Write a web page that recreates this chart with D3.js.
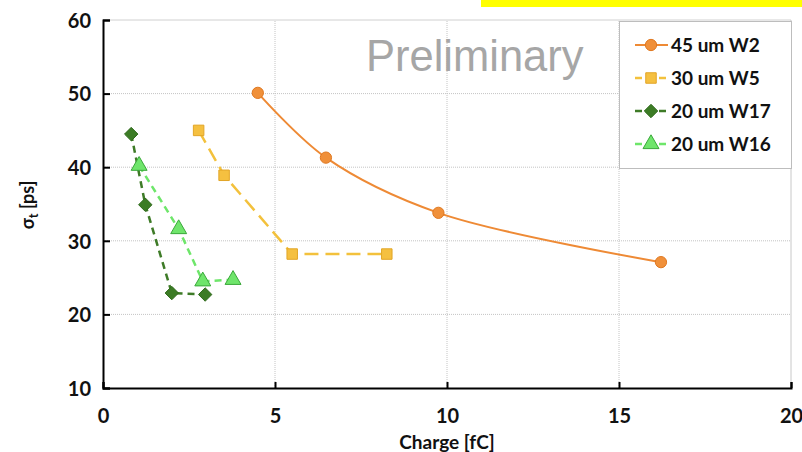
<!DOCTYPE html>
<html>
<head>
<meta charset="utf-8">
<script src="https://cdn.jsdelivr.net/npm/d3@7"></script>
<style>
  body { margin: 0; background: #fff; }
  text { font-family: Lato, "Open Sans", sans-serif; }
</style>
</head>
<body>
<script>
// sigma_t vs charge for several sensors
let xTicks = [0, 5, 10, 15, 20];
let yTicks = [10, 20, 30, 40, 50, 60];

let seriesNames = ['45 um W2', '30 um W5', '20 um W17', '20 um W16'];

let w2Charge = [4.5, 6.48, 9.75, 16.22];
let w2Sigma = [50.1, 41.3, 33.8, 27.1];

let w5Charge = [2.78, 3.52, 5.5, 8.25];
let w5Sigma = [45.0, 38.9, 28.2, 28.2];

let w17Charge = [0.82, 1.23, 2.0, 2.97];
let w17Sigma = [44.5, 34.9, 22.9, 22.7];

let w16Charge = [1.05, 2.2, 2.9, 3.78];
let w16Sigma = [40.2, 31.6, 24.5, 24.7];

let width = 802, height = 452;

let svg = d3.select('body').append('svg')
    .attr('width', width)
    .attr('height', height);

// yellow strip at the top right
svg.append('rect')
    .attr('x', 481).attr('y', 0)
    .attr('width', 321).attr('height', 7)
    .attr('fill', '#ffff00');

let x = d3.scaleLinear().domain([0, 20]).range([103, 791]);
let y = d3.scaleLinear().domain([10, 60]).range([388, 20]);

// grid
let grid = svg.append('g');
grid.selectAll('.hg')
    .data(yTicks.filter(d => d > 10))
    .enter().append('line')
    .attr('x1', x(0)).attr('x2', x(20))
    .attr('y1', d => y(d)).attr('y2', d => y(d))
    .attr('stroke', d => d === 60 ? '#d0d0d0' : '#c4c4c4')
    .attr('stroke-width', 1)
    .attr('stroke-dasharray', d => d === 60 ? null : '1,1');
grid.selectAll('.vg')
    .data(xTicks.filter(d => d > 0))
    .enter().append('line')
    .attr('y1', y(10)).attr('y2', y(60))
    .attr('x1', d => x(d)).attr('x2', d => x(d))
    .attr('stroke', d => d === 20 ? '#c8c8c8' : '#c4c4c4')
    .attr('stroke-width', 1)
    .attr('stroke-dasharray', d => d === 20 ? null : '1,1');

// Preliminary watermark
svg.append('text')
    .attr('x', 366).attr('y', 71)
    .style('font-family', '"Liberation Sans", Arial, sans-serif')
    .style('font-size', '43.5px')
    .attr('fill', '#a6a6a6')
    .text('Preliminary');

// axes
let xAxis = d3.axisBottom(x).tickValues(xTicks).tickSize(-6).tickPadding(0).tickFormat(d3.format('d'));
let yAxis = d3.axisLeft(y).tickValues(yTicks).tickSize(-7).tickPadding(0).tickFormat(d3.format('d'));

let gx = svg.append('g').attr('transform', 'translate(0,' + y(10) + ')').call(xAxis);
let gy = svg.append('g').attr('transform', 'translate(' + x(0) + ',0)').call(yAxis);

[gx, gy].forEach(g => {
    g.select('.domain').attr('stroke', '#000').attr('stroke-width', 2);
    g.selectAll('.tick line').attr('stroke', '#000').attr('stroke-width', 2);
    g.selectAll('.tick text')
        .style('font-family', 'Lato, sans-serif')
        .style('font-size', '20px')
        .style('font-weight', 'bold')
        .attr('fill', '#111');
});
gx.selectAll('.tick text').attr('dy', null).attr('y', 35);
gy.selectAll('.tick text').attr('x', -12).attr('dy', '0.36em');

// axis titles
svg.append('text')
    .attr('x', x(10)).attr('y', 449)
    .attr('text-anchor', 'middle')
    .style('font-size', '19px').style('font-weight', 'bold')
    .attr('fill', '#111')
    .text('Charge [fC]');

let yt = svg.append('text')
    .attr('transform', 'translate(34,205) rotate(-90)')
    .attr('text-anchor', 'middle')
    .style('font-size', '18px').style('font-weight', 'bold')
    .attr('fill', '#111');
yt.append('tspan').text('σ');
yt.append('tspan').attr('dy', 4).style('font-size', '13px').text('t');
yt.append('tspan').attr('dy', -4).text(' [ps]');

// square rotated by 45 degrees, as the spreadsheet draws its diamonds
let rhomb = {
    draw(context, size) {
        let r = Math.sqrt(size / 2);
        context.moveTo(0, -r);
        context.lineTo(r, 0);
        context.lineTo(0, r);
        context.lineTo(-r, 0);
        context.closePath();
    }
};

// series
let series = [
    {name: seriesNames[0], xs: w2Charge, ys: w2Sigma, color: '#ee8a35', fill: '#f0903a', stroke: '#e07820', dash: null, width: 2, shape: d3.symbolCircle, size: 100, curve: d3.curveCatmullRom},
    {name: seriesNames[1], xs: w5Charge, ys: w5Sigma, color: '#f3c13c', fill: '#f5c040', stroke: '#e2a526', dash: '14,7', width: 2.5, shape: d3.symbolSquare, size: 110, curve: d3.curveLinear},
    {name: seriesNames[2], xs: w17Charge, ys: w17Sigma, color: '#3e7b27', fill: '#3c7c25', stroke: '#2f6a1c', dash: '7,5', width: 2.5, shape: rhomb, size: 90, curve: d3.curveLinear},
    {name: seriesNames[3], xs: w16Charge, ys: w16Sigma, color: '#6ee66a', fill: '#6fe56b', stroke: '#3aa83a', dash: '7,5', width: 2.5, shape: d3.symbolTriangle, size: 110, curve: d3.curveLinear}
];

series.forEach(s => {
    let pts = s.xs.map((v, i) => [v, s.ys[i]]);
    let line = d3.line().x(d => x(d[0])).y(d => y(d[1])).curve(s.curve);
    svg.append('path')
        .attr('d', line(pts))
        .attr('fill', 'none')
        .attr('stroke', s.color)
        .attr('stroke-width', s.width)
        .attr('stroke-dasharray', s.dash);
    svg.append('g').selectAll('path')
        .data(pts)
        .enter().append('path')
        .attr('transform', d => 'translate(' + x(d[0]) + ',' + y(d[1]) + ')')
        .attr('d', d3.symbol().type(s.shape).size(s.size))
        .attr('fill', s.fill)
        .attr('stroke', s.stroke)
        .attr('stroke-width', 1);
});

// legend
let lg = svg.append('g');
lg.append('rect')
    .attr('x', 619.5).attr('y', 21.5)
    .attr('width', 172).attr('height', 147)
    .attr('fill', '#fff')
    .attr('stroke', '#bdbdbd');

let rows = lg.selectAll('.row')
    .data(series)
    .enter().append('g')
    .attr('transform', (d, i) => 'translate(0,' + (45 + i * 33) + ')');
rows.append('line')
    .attr('x1', 635).attr('x2', 668)
    .attr('stroke', d => d.color)
    .attr('stroke-width', d => d.width)
    .attr('stroke-dasharray', d => d.dash ? '7,5' : null);
rows.append('path')
    .attr('transform', 'translate(651,0)')
    .attr('d', d => d3.symbol().type(d.shape).size(d.size)())
    .attr('fill', d => d.fill)
    .attr('stroke', d => d.stroke);
rows.append('text')
    .attr('x', 671).attr('dy', '0.36em')
    .style('font-size', '19px').style('font-weight', 'bold')
    .attr('fill', '#111')
    .text(d => d.name);
</script>
</body>
</html>
